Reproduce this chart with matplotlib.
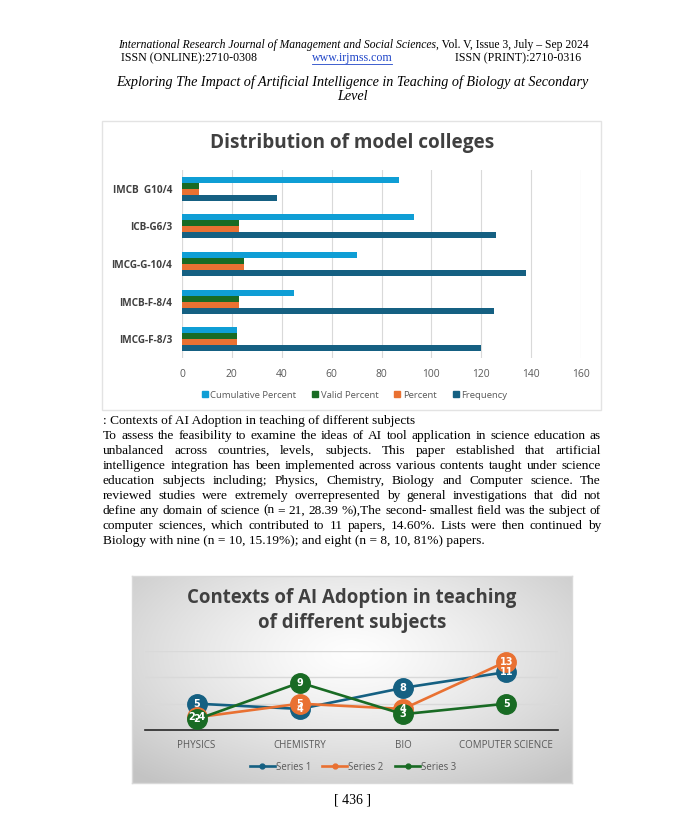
import numpy as np
import matplotlib
matplotlib.use("Agg")
import matplotlib.pyplot as plt
from matplotlib.lines import Line2D
from matplotlib.patches import Rectangle

W, H = 680, 819

# ---- data: bar chart ----
colleges = ["IMCB  G10/4", "ICB-G6/3", "IMCG-G-10/4", "IMCB-F-8/4", "IMCG-F-8/3"]
cumulative = [87, 93, 70, 45, 22]
valid = [7, 23, 25, 23, 22]
percent = [7, 23, 25, 23, 22]
frequency = [38, 126, 138, 125, 120]
bar_series = ["Cumulative Percent", "Valid Percent", "Percent", "Frequency"]
x_ticks = [0, 20, 40, 60, 80, 100, 120, 140, 160]

# ---- data: line chart ----
subjects = ["PHYSICS", "CHEMISTRY", "BIO", "COMPUTER SCIENCE"]
series1 = [5, 4, 8, 11]
series2 = [2.4, 5, 4, 13]
series3 = [2, 9, 3, 5]
line_names = ["Series 1", "Series 2", "Series 3"]

# ---- page text ----
journal = "International Research Journal of Management and Social Sciences,"
issue = " Vol. V, Issue 3, July \u2013 Sep 2024"
paper_title = ["Exploring The Impact of Artificial Intelligence in Teaching of Biology at Secondary",
               "Level"]
para = [
    ": Contexts of AI Adoption in teaching of different subjects",
    "To assess the feasibility to examine the ideas of AI tool application in science education as",
    "unbalanced across countries, levels, subjects. This paper established that artificial",
    "intelligence integration has been implemented across various contents taught under science",
    "education subjects including; Physics, Chemistry, Biology and Computer science. The",
    "reviewed studies were extremely overrepresented by general investigations that did not",
    "define any domain of science (n = 21, 28.39 %),The second- smallest field was the subject of",
    "computer sciences, which contributed to 11 papers, 14.60%. Lists were then continued by",
    "Biology with nine (n = 10, 15.19%); and eight (n = 8, 10, 81%) papers.",
]

C_DARK = "#156082"
C_ORANGE = "#E97132"
C_GREEN = "#196B24"
C_LIGHT = "#0F9ED5"
SERIF = "Liberation Serif"
SANS = "Open Sans"

fig = plt.figure(figsize=(W / 100, H / 100), dpi=100)
fig.patch.set_facecolor("white")
r = fig.canvas.get_renderer()


def fx(x):
    return x / W


def fy(y):
    return 1 - y / H


def rect(l, t, rr, b):
    return [l / W, 1 - b / H, (rr - l) / W, (b - t) / H]


def width_of(t):
    return t.get_window_extent(renderer=r).width


# header
t1 = fig.text(fx(118), fy(45), journal, family=SERIF, style="italic", size=8.35, va="center")
w1 = width_of(t1)
fig.text(fx(118 + w1), fy(45), issue, family=SERIF, size=8.35, va="center")
fig.text(fx(121), fy(58), "ISSN (ONLINE):2710-0308", family=SERIF, size=8.6, va="center")
fig.text(fx(581), fy(58), "ISSN (PRINT):2710-0316", family=SERIF, size=8.6, va="center", ha="right")
tl = fig.text(fx(352), fy(58), "www.irjmss.com", family=SERIF, size=8.6, va="center", ha="center",
              color="#1F45C8")
wl = width_of(tl)
fig.add_artist(Line2D([fx(352 - wl / 2), fx(352 + wl / 2)], [fy(63.5), fy(63.5)],
                      color="#1F45C8", lw=0.6))
fig.text(fx(352), fy(82), paper_title[0], family=SERIF, style="italic", size=10.2,
         ha="center", va="center")
fig.text(fx(352), fy(97), paper_title[1], family=SERIF, style="italic", size=10.2,
         ha="center", va="center")

# ---------------- bar chart ----------------
fig.add_artist(Rectangle((fx(102), fy(410)), (601 - 102) / W, (410 - 121) / H,
                         transform=fig.transFigure, fill=False, ec="#E3E3E3", lw=1))
fig.text(fx(352), fy(143), "Distribution of model colleges", family=SANS, weight="bold",
         size=13.7, color="#404040", ha="center", va="center")

ax = fig.add_axes(rect(182, 170, 581, 358))
pos = np.arange(len(colleges))
h = 0.16
for vals, off, col in zip([cumulative, valid, percent, frequency],
                          [-1.5, -0.5, 0.5, 1.5],
                          [C_LIGHT, C_GREEN, C_ORANGE, C_DARK]):
    ax.barh(pos + off * h, vals, height=h, color=col, zorder=3)
ax.set_xlim(0, 160)
ax.set_ylim(len(colleges) - 0.5, -0.5)
ax.set_xticks(x_ticks)
ax.set_xticklabels([str(v) for v in x_ticks], family=SANS, size=7.4, color="#595959")
ax.set_yticks(pos)
ax.set_yticklabels(colleges, family=SANS, size=7.2, weight="bold", color="#404040")
ax.tick_params(length=0, pad=8)
ax.tick_params(axis="y", pad=7)
ax.grid(axis="x", color="#D9D9D9", lw=0.8, zorder=0)
for s in ax.spines.values():
    s.set_visible(False)
ax.axvline(0, color="#D9D9D9", lw=0.8, zorder=1)
handles = [Line2D([], [], marker="s", ls="", color=c, markersize=5)
           for c in [C_LIGHT, C_GREEN, C_ORANGE, C_DARK]]
leg = fig.legend(handles, bar_series, loc="center", bbox_to_anchor=(fx(354), fy(395)),
                 ncol=4, frameon=False, prop={"family": SANS, "size": 6.8},
                 handlelength=0.8, handletextpad=0.2, columnspacing=1.6)
for t in leg.get_texts():
    t.set_color("#595959")

# ---------------- paragraph (justified) ----------------
left, right = 103, 601
for i, line in enumerate(para):
    y = fy(420.7 + 15 * i)
    if i == 0 or i == len(para) - 1:
        fig.text(fx(left), y, line, family=SERIF, size=9.6, va="center")
        continue
    words = line.split(" ")
    texts = [fig.text(0, y, wd, family=SERIF, size=9.6, va="center") for wd in words]
    widths = [width_of(t) for t in texts]
    gap = (right - left - sum(widths)) / (len(words) - 1)
    x = left
    for t, wd in zip(texts, widths):
        t.set_x(fx(x))
        x += wd + gap

# ---------------- line chart ----------------
bg = fig.add_axes(rect(132, 576, 572, 783))
gx, gy = np.meshgrid(np.linspace(-1, 1, 440), np.linspace(-1, 1, 207))
rad = np.sqrt(gx ** 2 + ((gy + 0.25) / 1.1) ** 2) / 1.45
val = 0.995 - 0.23 * np.clip(rad, 0, 1) ** 1.3
bg.imshow(np.dstack([val, val, val]), aspect="auto", extent=[0, 1, 0, 1])
bg.set_xlim(0, 1)
bg.set_ylim(0, 1)
bg.set_xticks([])
bg.set_yticks([])
for s in bg.spines.values():
    s.set_color("#D9D9D9")
    s.set_linewidth(1)

fig.text(fx(352), fy(598), "Contexts of AI Adoption in teaching", family=SANS, weight="bold",
         size=13.4, color="#404040", ha="center", va="center")
fig.text(fx(352), fy(623), "of different subjects", family=SANS, weight="bold",
         size=13.4, color="#404040", ha="center", va="center")

lx = fig.add_axes(rect(145, 651, 558, 730))
lx.patch.set_alpha(0)
xs = np.arange(len(subjects))
for vals, col, name in zip([series1, series2, series3], [C_DARK, C_ORANGE, C_GREEN], line_names):
    lx.plot(xs, vals, color=col, lw=1.9, marker="o", markersize=14, mec=col, mfc=col,
            zorder=3, clip_on=False)
for vals in [series1, series2, series3]:
    for xv, yv in zip(xs, vals):
        lx.text(xv, yv, f"{yv:g}", color="white", weight="bold", family="DejaVu Sans",
                size=7, ha="center", va="center", zorder=5)
lx.set_xlim(-0.5, len(subjects) - 0.5)
lx.set_ylim(0, 15)
lx.set_yticks([5, 10, 15])
lx.set_yticklabels([])
lx.grid(axis="y", color="#D9D9D9", lw=1, zorder=0)
lx.set_xticks(xs)
lx.set_xticklabels(subjects, family=SANS, size=7, color="#595959")
lx.tick_params(length=0, pad=7)
for k, s in lx.spines.items():
    s.set_visible(k == "bottom")
lx.spines["bottom"].set_color("#262626")
lx.spines["bottom"].set_linewidth(1.2)
lh = [Line2D([], [], color=c, lw=1.9, marker="o", markersize=3.5)
      for c in [C_DARK, C_ORANGE, C_GREEN]]
leg2 = fig.legend(lh, line_names, loc="center", bbox_to_anchor=(fx(353), fy(767)), ncol=3,
                  frameon=False, prop={"family": SANS, "size": 6.9}, handlelength=2.6,
                  handletextpad=0.1, columnspacing=1.2)
for t in leg2.get_texts():
    t.set_color("#595959")

fig.text(fx(352), fy(800), "[ 436 ]", family=SERIF, size=10, ha="center", va="center")

fig.savefig("out.png", dpi=100)
